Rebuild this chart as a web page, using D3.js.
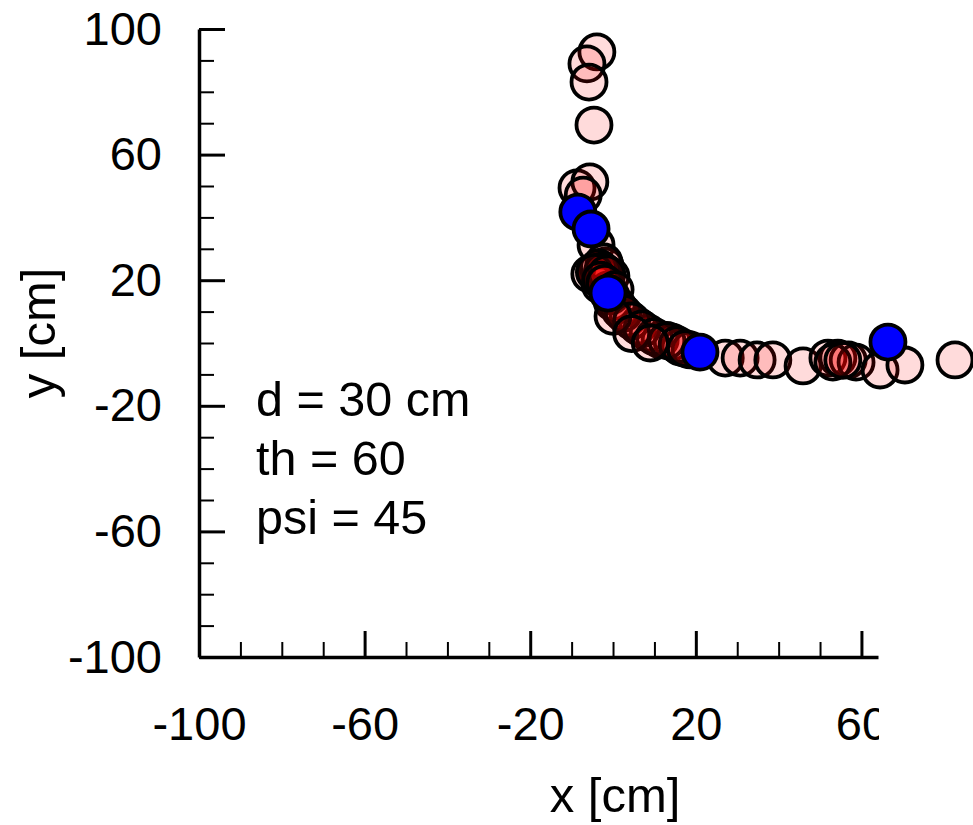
<!DOCTYPE html>
<html>
<head>
<meta charset="utf-8">
<script src="https://cdn.jsdelivr.net/npm/d3@7"></script>
<style>
  body { margin: 0; background: #fff; }
  svg text { font-family: "Liberation Sans", Arial, sans-serif; }
</style>
</head>
<body>
<div id="chart"></div>
<script>
// measured positions (cm)
let pinkX = [-3.9, -6.3, -5.8, -4.6, -8.7, -5.6, -7.2, -4.1, -3.9, -1.9, -5.6, -0.5, -3.1,
  -2.7, -1.2, -2.2, -0.2, 1.7, 3.6, 6.0, 8.5, 11.4, 14.3, 16.2, 18.6, 27.1, 30.7, 34.8,
  38.6, 45.9, 51.9, 54.3, 56.8, 58.7, 53.1, 64.5, 70.5, 82.6,
  -3.5, -2.5, -4.5, -1.5, -3.0, -2.0, 0.5, -0.5, 1.0, 2.5, 4.5, 7.0, 10.0, 13.0, 15.5, 17.5,
  55.5, 0.0, 4.5, 9.0];
let pinkY = [92.7, 88.9, 83.1, 69.4, 49.4, 51.3, 47.1, 31.2, 23.2, 24.5, 22.0, 21.3, 18.5,
  21.7, 16.9, 25.8, 13.1, 10.5, 8.0, 5.4, 3.2, 1.0, 0.3, -1.3, -2.2, -4.8, -4.8, -5.4,
  -5.4, -7.3, -4.8, -4.8, -5.4, -6.1, -6.1, -8.6, -7.0, -5.4,
  24.0, 23.0, 22.5, 22.0, 20.0, 19.0, 17.0, 15.0, 12.0, 9.5, 7.0, 4.5, 2.0, 0.8, -0.5, -1.8,
  -5.5, 8.5, 3.0, 0.0];
let blueX = [-8.5, -5.3, -1.2, 21.0, 66.4];
let blueY = [41.7, 36.3, 15.9, -2.9, 0.3];

let majorTicks = [-100, -60, -20, 20, 60, 100];
let minorTicks = d3.range(-100, 101, 10).filter(v => majorTicks.indexOf(v) < 0);
let notes = ["d = 30 cm", "th = 60", "psi = 45"];

let width = 973, height = 825;
let x = d3.scaleLinear().domain([-100, 64]).range([199, 878]);
let y = d3.scaleLinear().domain([-100, 100]).range([657, 29]);

let svg = d3.select("#chart").append("svg")
  .attr("width", width)
  .attr("height", height);

svg.append("clipPath").attr("id", "xclip")
  .append("rect").attr("x", -10).attr("y", -100).attr("width", 889).attr("height", 300);

// minor ticks
svg.append("g")
  .attr("transform", "translate(0," + y(-100) + ")")
  .call(d3.axisBottom(x).tickValues(minorTicks.filter(v => v < 64)).tickSize(-15).tickFormat(""))
  .call(g => g.select(".domain").remove())
  .call(g => g.selectAll("line").attr("stroke-width", 2));
svg.append("g")
  .attr("transform", "translate(" + x(-100) + ",0)")
  .call(d3.axisLeft(y).tickValues(minorTicks).tickSize(-15).tickFormat(""))
  .call(g => g.select(".domain").remove())
  .call(g => g.selectAll("line").attr("stroke-width", 2));

// major axes
let xAxis = svg.append("g")
  .attr("transform", "translate(0," + y(-100) + ")")
  .attr("clip-path", "url(#xclip)")
  .call(d3.axisBottom(x).tickValues(majorTicks.filter(v => v < 64))
    .tickFormat(d => String(d))
    .tickSizeInner(-26).tickSizeOuter(0).tickPadding(50));
xAxis.select(".domain").attr("stroke-width", 3.5);
xAxis.selectAll("line").attr("stroke-width", 3);
xAxis.selectAll("text").attr("font-size", 47).attr("fill", "#000");

let yAxis = svg.append("g")
  .attr("transform", "translate(" + x(-100) + ",0)")
  .call(d3.axisLeft(y).tickValues(majorTicks)
    .tickFormat(d => String(d))
    .tickSizeInner(-26).tickSizeOuter(0).tickPadding(37));
yAxis.select(".domain").attr("stroke-width", 3.5);
yAxis.selectAll("line").attr("stroke-width", 3);
yAxis.selectAll("text").attr("font-size", 47).attr("fill", "#000");
xAxis.attr("font-family", null);
yAxis.attr("font-family", null);

// axis titles
svg.append("text")
  .attr("x", 615).attr("y", 812)
  .attr("text-anchor", "middle")
  .attr("font-size", 49)
  .text("x [cm]");
svg.append("text")
  .attr("transform", "translate(55,333) rotate(-90)")
  .attr("text-anchor", "middle")
  .attr("font-size", 49)
  .text("y [cm]");

// annotation
svg.selectAll(".note")
  .data(notes)
  .enter().append("text")
  .attr("class", "note")
  .attr("x", 256)
  .attr("y", (d, i) => 416 + i * 59)
  .attr("font-size", 48.5)
  .text(d => d);

// points
svg.append("g").selectAll("circle")
  .data(pinkX.map((v, i) => [v, pinkY[i]]))
  .enter().append("circle")
  .attr("cx", d => x(d[0]))
  .attr("cy", d => y(d[1]))
  .attr("r", 17.5)
  .attr("fill", "rgba(255,0,0,0.14)")
  .attr("stroke", "#000")
  .attr("stroke-width", 3.8);

svg.append("g").selectAll("circle")
  .data(blueX.map((v, i) => [v, blueY[i]]))
  .enter().append("circle")
  .attr("cx", d => x(d[0]))
  .attr("cy", d => y(d[1]))
  .attr("r", 17.5)
  .attr("fill", "#0000ff")
  .attr("stroke", "#000")
  .attr("stroke-width", 3.8);
</script>
</body>
</html>
